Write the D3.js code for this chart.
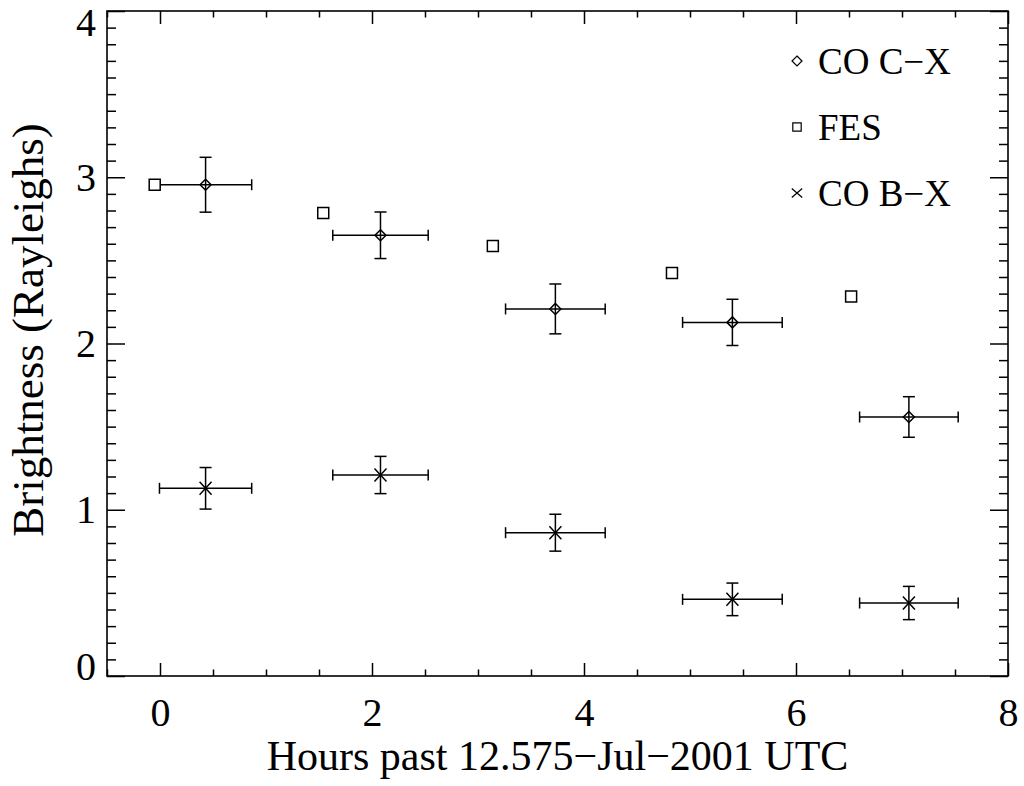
<!DOCTYPE html>
<html>
<head>
<meta charset="utf-8">
<script src="https://cdn.jsdelivr.net/npm/d3@7"></script>
<style>
  body { margin: 0; background: #fff; }
  text { font-family: "Liberation Serif", "Times New Roman", serif; fill: #000; }
</style>
</head>
<body>
<svg width="1024" height="786"></svg>
<script>
// observation mid-times (hours) and half-widths of each integration
var hours = [0.43, 2.08, 3.73, 5.40, 7.065];
var hourErr = [0.435, 0.45, 0.47, 0.47, 0.465];

// CO C-X brightness and errors
var coCX = [2.955, 2.651, 2.208, 2.127, 1.558];
var coCXErr = [0.165, 0.14, 0.15, 0.139, 0.122];

// CO B-X brightness and errors
var coBX = [1.129, 1.209, 0.862, 0.461, 0.439];
var coBXErr = [0.125, 0.112, 0.111, 0.098, 0.1];

// FES values
var fesHours = [-0.05, 1.54, 3.14, 4.83, 6.52];
var fes = [2.955, 2.785, 2.587, 2.424, 2.282];

var xMajor = [0, 2, 4, 6, 8];
var yMajor = [0, 1, 2, 3, 4];
var legendNames = ["CO C\u2212X", "FES", "CO B\u2212X"];

var svg = d3.select("svg"),
 pLeft = 107, pRight = 1008, pTop = 11, pBottom = 676;

var x = d3.scaleLinear().domain([-0.5, 8]).range([pLeft, pRight]);
var y = d3.scaleLinear().domain([0, 4]).range([pBottom, pTop]);

var xMinor = d3.range(-0.5, 8.01, 0.5).filter(function(v) { return xMajor.indexOf(v) < 0; });
var yMinor = d3.range(0, 40.5, 1).map(function(v) { return v / 10; })
  .filter(function(v) { return yMajor.indexOf(v) < 0; });

function styleAxis(g, labels) {
  g.select(".domain").remove();
  g.selectAll("line").attr("stroke", "#000").attr("stroke-width", 1.5);
  if (labels) {
    g.selectAll("text").style("font-size", "40px").attr("font-family", null);
  } else {
    g.selectAll("text").remove();
  }
}

// bottom
svg.append("g").attr("transform", "translate(0," + pBottom + ")")
  .call(d3.axisBottom(x).tickValues(xMajor).tickSize(-13).tickPadding(22).tickFormat(d3.format("d")))
  .call(styleAxis, true);
svg.append("g").attr("transform", "translate(0," + pBottom + ")")
  .call(d3.axisBottom(x).tickValues(xMinor).tickSize(-6.5))
  .call(styleAxis, false);
// top
svg.append("g").attr("transform", "translate(0," + pTop + ")")
  .call(d3.axisTop(x).tickValues(xMajor).tickSize(-13))
  .call(styleAxis, false);
svg.append("g").attr("transform", "translate(0," + pTop + ")")
  .call(d3.axisTop(x).tickValues(xMinor).tickSize(-6.5))
  .call(styleAxis, false);
// left
var yAxisG = svg.append("g").attr("transform", "translate(" + pLeft + ",0)")
  .call(d3.axisLeft(y).tickValues(yMajor).tickSize(-18).tickPadding(11).tickFormat(d3.format("d")))
  .call(styleAxis, true);
// end labels are nudged inside the frame
yAxisG.selectAll(".tick text").filter(function(d) { return d === 4; }).attr("y", 12);
yAxisG.selectAll(".tick text").filter(function(d) { return d === 0; }).attr("y", -9);
svg.append("g").attr("transform", "translate(" + pLeft + ",0)")
  .call(d3.axisLeft(y).tickValues(yMinor).tickSize(-9))
  .call(styleAxis, false);
// right
svg.append("g").attr("transform", "translate(" + pRight + ",0)")
  .call(d3.axisRight(y).tickValues(yMajor).tickSize(-18))
  .call(styleAxis, false);
svg.append("g").attr("transform", "translate(" + pRight + ",0)")
  .call(d3.axisRight(y).tickValues(yMinor).tickSize(-9))
  .call(styleAxis, false);

svg.append("rect")
  .attr("x", pLeft).attr("y", pTop)
  .attr("width", pRight - pLeft).attr("height", pBottom - pTop)
  .attr("fill", "none").attr("stroke", "#000").attr("stroke-width", 1.6);

// titles
svg.append("text")
  .attr("x", (pLeft + pRight) / 2).attr("y", 770)
  .attr("text-anchor", "middle").style("font-size", "42px")
  .text("Hours past 12.575\u2212Jul\u22122001 UTC");
svg.append("text")
  .attr("transform", "translate(43,330) rotate(-90)")
  .attr("text-anchor", "middle").style("font-size", "45px")
  .text("Brightness (Rayleighs)");

// error bars
function errorBars(vals, errs) {
  var g = svg.append("g").attr("stroke", "#000").attr("stroke-width", 1.5).attr("fill", "none");
  hours.forEach(function(h, i) {
    var cx = x(h), cy = y(vals[i]);
    var x0 = x(h - hourErr[i]), x1 = x(h + hourErr[i]);
    var y0 = y(vals[i] - errs[i]), y1 = y(vals[i] + errs[i]);
    g.append("line").attr("x1", x0).attr("x2", x1).attr("y1", cy).attr("y2", cy);
    g.append("line").attr("x1", x0).attr("x2", x0).attr("y1", cy - 5.5).attr("y2", cy + 5.5);
    g.append("line").attr("x1", x1).attr("x2", x1).attr("y1", cy - 5.5).attr("y2", cy + 5.5);
    g.append("line").attr("x1", cx).attr("x2", cx).attr("y1", y0).attr("y2", y1);
    g.append("line").attr("x1", cx - 6).attr("x2", cx + 6).attr("y1", y0).attr("y2", y0);
    g.append("line").attr("x1", cx - 6).attr("x2", cx + 6).attr("y1", y1).attr("y2", y1);
  });
}
errorBars(coCX, coCXErr);
errorBars(coBX, coBXErr);

function diamond(s) { return "M0," + (-s) + "L" + s + ",0L0," + s + "L" + (-s) + ",0Z"; }
function square(s) { return "M" + (-s) + "," + (-s) + "H" + s + "V" + s + "H" + (-s) + "Z"; }
function cross(w, h) { return "M" + (-w) + "," + (-h) + "L" + w + "," + h + "M" + (-w) + "," + h + "L" + w + "," + (-h); }

svg.append("g").selectAll("path").data(coCX).enter().append("path")
  .attr("transform", function(d, i) { return "translate(" + x(hours[i]) + "," + y(d) + ")"; })
  .attr("d", diamond(5.5)).attr("fill", "none")
  .attr("stroke", "#000").attr("stroke-width", 1.5);

svg.append("g").selectAll("path").data(fes).enter().append("path")
  .attr("transform", function(d, i) { return "translate(" + x(fesHours[i]) + "," + y(d) + ")"; })
  .attr("d", square(5.5)).attr("fill", "#fff")
  .attr("stroke", "#000").attr("stroke-width", 1.5);

svg.append("g").selectAll("path").data(coBX).enter().append("path")
  .attr("transform", function(d, i) { return "translate(" + x(hours[i]) + "," + y(d) + ")"; })
  .attr("d", cross(6, 6.5)).attr("fill", "none")
  .attr("stroke", "#000").attr("stroke-width", 1.5);

// legend
var legendShapes = [diamond(5), square(4.2), cross(5.2, 4.5)];
var lg = svg.append("g").selectAll("g").data(legendNames).enter().append("g")
  .attr("transform", function(d, i) { return "translate(797," + (61 + i * 66) + ")"; });
lg.append("path").attr("d", function(d, i) { return legendShapes[i]; })
  .attr("fill", "none").attr("stroke", "#000").attr("stroke-width", 1.2);
lg.append("text").attr("x", 21).attr("y", 12.5)
  .style("font-size", "37px").text(function(d) { return d; });
</script>
</body>
</html>
